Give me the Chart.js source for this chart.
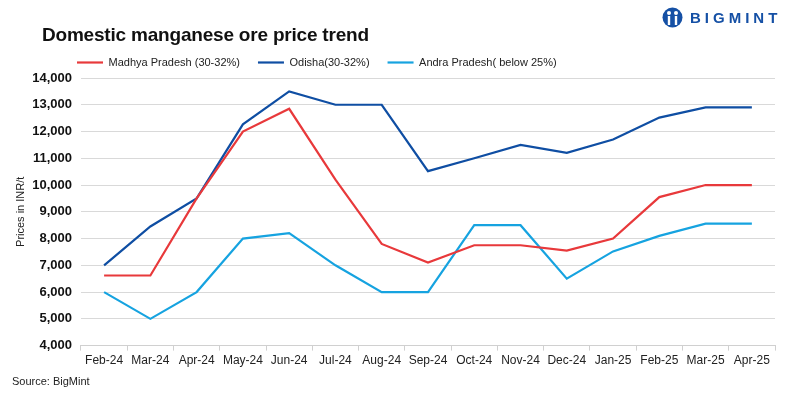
<!DOCTYPE html>
<html>
<head>
<meta charset="utf-8">
<script src="https://cdn.jsdelivr.net/npm/chart.js@4.4.1/dist/chart.umd.min.js"></script>
<style>
  body { margin: 0; background: #fff; }
  #wrap { position: relative; width: 789px; height: 399px; font-family: "Liberation Sans", Arial, sans-serif; }
  #chartBox { position: absolute; left: 0; top: 0; width: 789px; height: 399px; }
  #title { position: absolute; left: 42px; top: 24px; font-size: 19px; font-weight: bold; color: #111; letter-spacing: -0.2px; }
  #source { position: absolute; left: 12px; top: 375px; font-size: 11px; color: #222; }
  #logo { position: absolute; left: 662px; top: 7px; display: flex; align-items: center; }
  #logo span { font-size: 15px; font-weight: bold; color: #1550a5; letter-spacing: 4px; margin-left: 7px; }
</style>
</head>
<body>
<div id="wrap">
  <div id="chartBox"><canvas id="priceChart"></canvas></div>
  <div id="title">Domestic manganese ore price trend</div>
  <div id="source">Source: BigMint</div>
  <div id="logo">
    <svg width="21" height="21" viewBox="0 0 21 21">
      <circle cx="10.5" cy="10.5" r="10" fill="#1550a5"/>
      <circle cx="7" cy="6" r="2" fill="#fff"/>
      <circle cx="14" cy="6" r="2" fill="#fff"/>
      <rect x="5.8" y="9" width="2.4" height="9" fill="#fff"/>
      <rect x="12.8" y="9" width="2.4" height="9" fill="#fff"/>
    </svg>
    <span>BIGMINT</span>
  </div>
</div>
<script>
const months = ["Feb-24", "Mar-24", "Apr-24", "May-24", "Jun-24", "Jul-24", "Aug-24", "Sep-24",
                "Oct-24", "Nov-24", "Dec-24", "Jan-25", "Feb-25", "Mar-25", "Apr-25"];
const madhyaPradesh = [6620, 6620, 9500, 12000, 12850, 10200, 7800, 7100, 7750, 7750, 7550, 8000, 9550, 10000, 10000];
const odisha = [7000, 8450, 9500, 12270, 13500, 13000, 13000, 10520, 11000, 11500, 11200, 11700, 12520, 12900, 12900];
const andraPradesh = [6000, 5000, 6000, 8000, 8200, 7000, 6000, 6000, 8500, 8500, 6500, 7520, 8100, 8560, 8560];

const colors = ['#e8393b', '#0f4ea3', '#16a3e0'];
const font = "'Liberation Sans', Arial, sans-serif";

// move the legend so it starts near the plot's left edge, like the original
const legendShift = {
    id: 'legendShift',
    afterLayout(chart) {
        if (chart.legend) {
            chart.legend.left += 49;
            chart.legend.right += 49;
        }
    }
};

function series(label, data, color) {
    return {
        label: label,
        data: data,
        borderColor: color,
        backgroundColor: color,
        pointBorderColor: color,
        pointBackgroundColor: color,
        pointBorderWidth: 2.2
    };
}

new Chart(document.getElementById("priceChart"), {
    type: "line",
    data: {
        labels: months,
        datasets: [
            series("Madhya Pradesh (30-32%)", madhyaPradesh, colors[0]),
            series("Odisha(30-32%)", odisha, colors[1]),
            series("Andra Pradesh( below 25%)", andraPradesh, colors[2])
        ]
    },
    options: {
        responsive: true,
        maintainAspectRatio: false,
        animation: false,
        elements: {
            line: { borderWidth: 2.2, tension: 0 },
            point: { radius: 0, hoverRadius: 0 }
        },
        layout: { padding: { top: 39, left: 10, right: 14, bottom: 28 } },
        plugins: {
            tooltip: { enabled: false },
            legend: {
                display: true,
                position: 'top',
                align: 'start',
                labels: {
                    usePointStyle: true,
                    pointStyle: 'line',
                    pointStyleWidth: 26,
                    boxHeight: 11,
                    padding: 18,
                    color: '#222',
                    font: { family: font, size: 11 }
                }
            }
        },
        scales: {
            x: {
                offset: true,
                grid: { offset: true, drawOnChartArea: false, drawTicks: true, tickLength: 5, color: '#d0d0d0' },
                border: { color: '#d0d0d0' },
                ticks: { color: '#222', padding: 3, maxRotation: 0, autoSkip: false, font: { family: font, size: 12 } }
            },
            y: {
                min: 4000,
                max: 14000,
                ticks: {
                    stepSize: 1000,
                    padding: 9,
                    color: '#111',
                    font: { family: font, size: 13, weight: 'bold' },
                    callback: v => v.toLocaleString('en-US')
                },
                grid: { color: '#d9d9d9', drawTicks: false },
                border: { display: false },
                title: { display: true, text: 'Prices in INR/t', color: '#222', padding: { top: 4, bottom: -4 }, font: { family: font, size: 11 } }
            }
        }
    },
    plugins: [legendShift]
});
</script>
</body>
</html>
